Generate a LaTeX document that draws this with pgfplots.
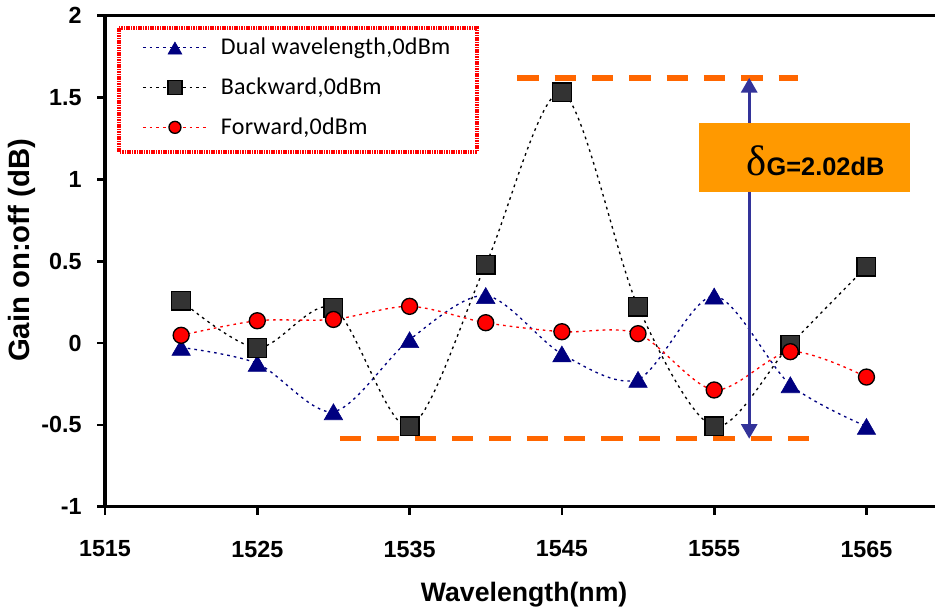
\documentclass[border=0pt]{standalone}
\usepackage{pgfplots}
\pgfplotsset{compat=1.18}
\usepackage{fontspec}
\setmainfont{Liberation Sans}
\newfontfamily\legfont[LetterSpace=1]{Carlito}
\newfontfamily\serifont{Liberation Serif}
\usetikzlibrary{arrows.meta}
\definecolor{navy}{HTML}{000080}
\definecolor{sqgray}{HTML}{333333}
\definecolor{dashorange}{HTML}{FF6600}
\definecolor{boxorange}{HTML}{FF9900}
\definecolor{arrowblue}{HTML}{333399}
\begin{document}
\begin{tikzpicture}
\useasboundingbox (-78.75pt,-78.2pt) rectangle (622.5pt,380pt);
\begin{axis}[
  scale only axis, width=622.5pt, height=368.25pt,
  xmin=1515, xmax=1569.5, ymin=-1, ymax=2,
  axis x line=box, axis y line=left,
  axis line style={-, line width=2.4pt},
  every outer x axis line/.append style={-},
  every outer y axis line/.append style={-},
  xtick={1515,1525,...,1565}, ytick={-1,-0.5,...,2},
  xtick pos=bottom, ytick pos=left,
  tick align=outside, major tick length=6pt,
  every tick/.style={black, line width=2pt},
  /pgf/number format/assume math mode=true,
  /pgf/number format/1000 sep={},
  tick label style={font=\bfseries\fontsize{17.5}{20}\selectfont},
  xticklabel style={yshift=-16pt},
  yticklabel style={xshift=-8pt},
  xlabel={Wavelength(nm)}, ylabel={Gain on:off (dB)},
  every axis x label/.style={at={(axis description cs:0.505,-0.194)}, anchor=base,
    font=\bfseries\fontsize{20}{22}\selectfont},
  every axis y label/.style={at={(axis description cs:-0.1,0.522)}, rotate=90, anchor=center,
    font=\bfseries\fontsize{22}{24}\selectfont},
  legend style={at={(axis description cs:0.0446,0.955)}, anchor=north west, draw=none, fill=none,
    inner sep=0pt, nodes={inner sep=0pt}, row sep=16pt,
    font=\legfont\fontsize{18}{20}\selectfont,
    /tikz/every odd column/.append style={column sep=10pt}},
  legend cell align=left,
  legend image code/.code={\draw[mark repeat=2,mark phase=2,#1,every mark/.append style={scale=0.75}] plot coordinates {(0pt,0pt)(24pt,0pt)(48pt,0pt)};},
  clip=false,
]
\addplot[navy, line width=1pt, dash pattern=on 2pt off 3pt, smooth, tension=0.5,
  mark=triangle*, mark size=8pt, mark options={solid, fill=navy, draw=navy, line width=0.4pt, yshift=-2pt}]
  coordinates {(1520,-0.027) (1525,-0.125) (1530,-0.42) (1535,0.02) (1540,0.29) (1545,-0.067) (1550,-0.222) (1555,0.287) (1560,-0.255) (1565,-0.51)};
\addlegendentry{Dual wavelength,0dBm}
\addplot[black, line width=1pt, dash pattern=on 2pt off 3pt, smooth, tension=0.5,
  mark=square*, mark size=7pt, mark options={solid, fill=sqgray, draw=black, line width=1pt}]
  coordinates {(1520,0.258) (1525,-0.03) (1530,0.214) (1535,-0.51) (1540,0.478) (1545,1.531) (1550,0.222) (1555,-0.51) (1560,-0.01) (1565,0.466)};
\addlegendentry{Backward,0dBm}
\addplot[red, line width=1pt, dash pattern=on 2pt off 3pt, smooth, tension=0.5,
  mark=*, mark size=6pt, mark options={solid, fill=red, draw=black, line width=1pt}]
  coordinates {(1520,0.047) (1525,0.136) (1530,0.144) (1535,0.224) (1540,0.124) (1545,0.069) (1550,0.057) (1555,-0.287) (1560,-0.053) (1565,-0.208)};
\addlegendentry{Forward,0dBm}
% orange dashed reference lines
\addplot[dashorange, line width=4pt, dash pattern=on 16pt off 12pt, forget plot]
  coordinates {(1542.07,1.62) (1560.5,1.62)};
\addplot[dashorange, line width=4pt, dash pattern=on 16pt off 12pt, forget plot]
  coordinates {(1530.44,-0.585) (1561.25,-0.585)};
% double arrow
\addplot[arrowblue, line width=2.2pt, {Triangle[width=12pt,length=11pt]}-{Triangle[width=12pt,length=11pt]}, forget plot]
  coordinates {(1557.3,-0.585) (1557.3,1.62)};
\fill[boxorange] (axis cs:1554.03,1.346) rectangle (axis cs:1567.83,0.924);
\node[anchor=base, inner sep=0pt] at (axis cs:1561.65,1.022)
  {{\serifont\fontsize{32}{32}\selectfont δ}{\bfseries\fontsize{19}{20}\selectfont G=2.02dB}};
% legend frame
\draw[red, line width=2.5pt, dash pattern=on 1.2pt off 0.6pt]
  (axis description cs:0.0169,0.975) rectangle (axis description cs:0.448,0.7224);
\end{axis}
\end{tikzpicture}
\end{document}
